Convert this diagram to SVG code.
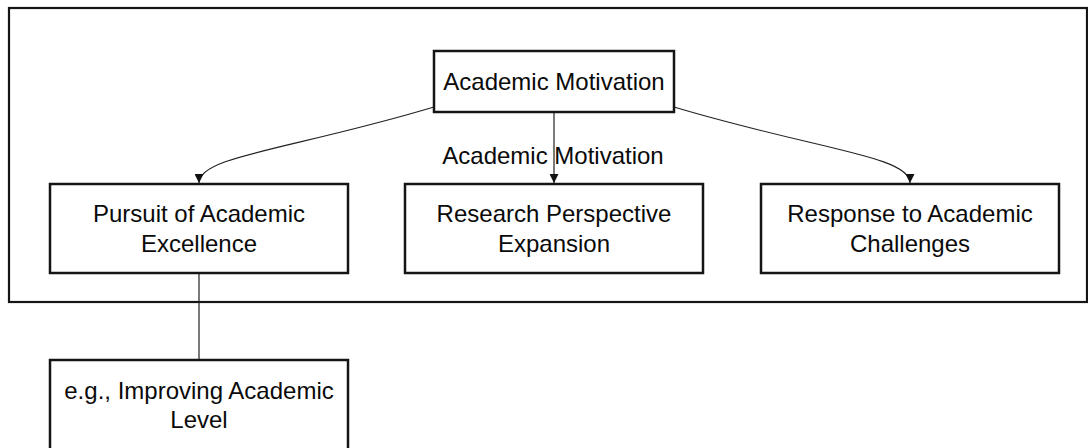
<svg xmlns="http://www.w3.org/2000/svg" width="1088" height="448" viewBox="0 0 1088 448">
  <style>
    .frame { fill: none; stroke: #151515; stroke-width: 2.2; }
    .box { fill: #ffffff; stroke: #151515; stroke-width: 2.5; }
    .edge { fill: none; stroke: #222222; stroke-width: 1.2; }
    .label { font-family: "Liberation Sans", Arial, sans-serif; font-size: 24px; fill: #0a0a0a; text-anchor: middle; }
  </style>
  <defs>
    <marker id="arrow" viewBox="0 0 10 10" refX="10" refY="5" markerWidth="9" markerHeight="9" markerUnits="userSpaceOnUse" orient="auto">
      <path d="M0,0 L10,5 L0,10 z" fill="#111111"/>
    </marker>
  </defs>

  <!-- enclosing frame -->
  <rect class="frame" x="9" y="8" width="1078" height="294"/>

  <!-- connectors -->
  <g id="edges">
    <path class="edge" d="M434,107 C290,150 199,156 199,183" marker-end="url(#arrow)"/>
    <path class="edge" d="M554,112 L554,183" marker-end="url(#arrow)"/>
    <path class="edge" d="M674,107 C818,150 910,156 910,183" marker-end="url(#arrow)"/>
    <path class="edge" d="M199,274 L199,360"/>
    <text class="label" x="553" y="164">Academic Motivation</text>
  </g>

  <g id="academic-motivation">
    <rect class="box" x="434" y="51" width="240" height="61"/>
    <text class="label" x="554" y="90">Academic Motivation</text>
  </g>

  <g id="pursuit-excellence">
    <rect class="box" x="50" y="184" width="298" height="89"/>
    <text class="label" x="199" y="222">Pursuit of Academic</text>
    <text class="label" x="199" y="252">Excellence</text>
  </g>

  <g id="research-perspective">
    <rect class="box" x="405" y="184" width="298" height="89"/>
    <text class="label" x="554" y="222">Research Perspective</text>
    <text class="label" x="554" y="252">Expansion</text>
  </g>

  <g id="academic-challenges">
    <rect class="box" x="761" y="184" width="298" height="89"/>
    <text class="label" x="910" y="222">Response to Academic</text>
    <text class="label" x="910" y="252">Challenges</text>
  </g>

  <g id="improving-level">
    <rect class="box" x="50" y="360" width="298" height="90"/>
    <text class="label" x="199" y="399">e.g., Improving Academic</text>
    <text class="label" x="199" y="428">Level</text>
  </g>
</svg>
